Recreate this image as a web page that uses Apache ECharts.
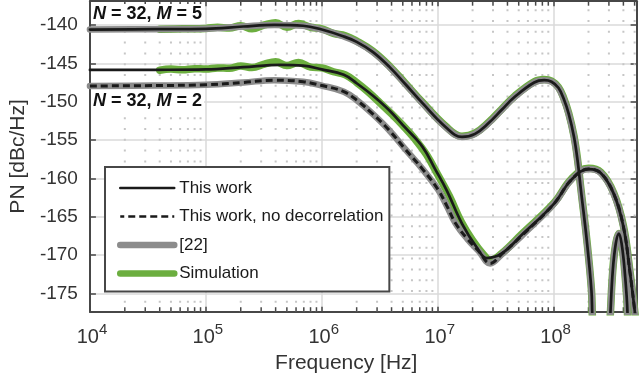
<!DOCTYPE html>
<html><head><meta charset="utf-8">
<script src="https://cdn.jsdelivr.net/npm/echarts@6/dist/echarts.min.js"></script>
<style>html,body{margin:0;padding:0;background:#fff}#c{width:640px;height:379px}</style>
</head><body><div id="c"></div>
<script>
// ---------- data (frequency in Hz, phase noise in dBc/Hz) ----------
const m5Freq = [1e4, 3.6e4, 1e5, 2.1e5, 3.9e5, 6.9e5, 1e6, 1.55e6, 2e6, 2.75e6, 3.8e6, 5.25e6, 7.4e6, 1.17e7, 1.62e7, 2.1e7, 2.75e7, 3.55e7, 4.6e7, 6.8e7, 8.3e7, 9.6e7, 1.1e8, 1.22e8, 1.35e8, 1.5e8, 1.62e8, 1.72e8, 1.93e8, 2.12e8, 2.16e8, 2.56e8, 3.08e8, 3.24e8, 3.44e8, 3.66e8, 3.86e8, 4.1e8, 4.35e8, 4.62e8];
const m5Model = [-140.6, -140.55, -140.5, -140.2, -140.0, -140.1, -140.6, -141.5, -142.2, -143.5, -145.4, -147.7, -150.2, -153.3, -154.6, -154.2, -152.8, -151.1, -149.4, -147.5, -147.2, -147.4, -148.2, -149.6, -151.6, -154.6, -158.0, -161.5, -168.0, -174.6, -178, -200, -178, -172, -168.5, -167.2, -168.5, -172, -178, -200];

const m2Freq = [1e4, 3.6e4, 1e5, 2.1e5, 4.4e5, 6.9e5, 1e6, 1.55e6, 2e6, 2.75e6, 3.8e6, 5.25e6, 7.4e6, 9.5e6, 1.19e7, 1.62e7, 2.17e7, 2.66e7, 3.57e7, 5.3e7, 1.01e8, 1.42e8, 2e8, 2.55e8, 3.3e8, 4e8, 4.57e8, 5e8, 5.2e8];
const m2ThisWork = [-145.87, -145.85, -145.8, -145.5, -145.2, -145.3, -145.8, -146.5, -147.6, -149.2, -151.1, -153.4, -155.9, -158.8, -161.5, -165.9, -169.0, -170.4, -169.8, -167.4, -163.3, -160.2, -158.8, -159.3, -162.0, -166.3, -172.4, -177.2, -180];

const m2NoDecorFreq = [1e4, 3.6e4, 1e5, 2.1e5, 3.9e5, 6.9e5, 1e6, 1.55e6, 2e6, 2.75e6, 3.8e6, 5.25e6, 7.4e6, 1.01e7, 1.2e7, 1.43e7, 1.8e7, 2.26e7, 2.84e7, 3.57e7, 5.3e7, 1.01e8, 1.42e8, 2e8, 2.55e8, 3.3e8, 4e8, 4.57e8, 5e8, 5.2e8];
const m2NoDecor = [-147.96, -147.9, -147.8, -147.5, -147.2, -147.4, -147.9, -148.7, -149.8, -151.6, -153.7, -156.2, -158.8, -161.5, -163.6, -165.9, -167.9, -169.5, -171.1, -169.9, -167.5, -163.3, -160.2, -158.8, -159.3, -162.0, -166.3, -172.4, -177.2, -180];

const sim5Freq = [4e4, 6.3e4, 1e5, 1.26e5, 1.6e5, 2e5, 2.5e5, 3.2e5, 4e5, 5e5, 6.3e5, 8e5, 1e6, 1.26e6, 1.6e6, 2e6, 2.75e6, 3.8e6, 5.25e6, 7.4e6, 1.17e7, 1.62e7, 2.1e7, 2.75e7, 3.55e7, 4.6e7, 6.8e7, 8.3e7, 9.6e7, 1.1e8, 1.22e8, 1.35e8, 1.5e8, 1.62e8, 1.72e8, 1.93e8, 2.12e8, 2.16e8, 2.56e8, 3.08e8, 3.24e8, 3.44e8, 3.66e8, 3.86e8, 4.1e8, 4.35e8, 4.62e8];
const sim5 = [-140.55, -140.5, -140.45, -140.3, -140.4, -140.1, -140.5, -140.0, -139.7, -140.3, -139.8, -140.3, -140.5, -141.1, -141.4, -142.1, -143.4, -145.3, -147.6, -150.1, -153.2, -154.5, -154.1, -152.7, -151.0, -149.3, -147.4, -147.1, -147.3, -148.1, -149.5, -151.5, -154.5, -157.9, -161.4, -167.9, -174.5, -178, -200, -178, -172, -168.5, -167.2, -168.5, -172, -178, -200];

const sim2Freq = [4e4, 5e4, 6.3e4, 8e4, 1e5, 1.26e5, 1.6e5, 2e5, 2.5e5, 3.2e5, 4e5, 5e5, 6.3e5, 8e5, 1e6, 1.26e6, 1.6e6, 2e6, 2.5e6, 3.2e6, 4e6, 5e6, 6.3e6, 8e6, 1e7, 1.26e7, 1.6e7, 2e7, 2.5e7, 2.84e7, 3.57e7, 5.3e7, 1.01e8, 1.42e8, 2e8, 2.55e8, 3.3e8, 4e8, 4.57e8, 5e8, 5.2e8];
const sim2 = [-145.9, -145.75, -145.85, -145.7, -145.75, -145.6, -145.65, -145.35, -145.55, -145.1, -144.8, -145.3, -144.9, -145.5, -145.6, -146.1, -146.5, -147.5, -148.7, -150.2, -151.6, -153.1, -154.8, -156.9, -159.5, -162.3, -165.7, -168.1, -170.0, -170.7, -169.8, -167.3, -163.2, -160.1, -158.7, -159.2, -161.9, -166.2, -172.3, -177.2, -180];

const minorTickFreqs = [2e4, 3e4, 4e4, 5e4, 6e4, 7e4, 8e4, 9e4, 2e5, 3e5, 4e5, 5e5, 6e5, 7e5, 8e5, 9e5, 2e6, 3e6, 4e6, 5e6, 6e6, 7e6, 8e6, 9e6, 2e7, 3e7, 4e7, 5e7, 6e7, 7e7, 8e7, 9e7, 2e8, 3e8, 4e8, 5e8];

const legendNames = ['This work', 'This work, no decorrelation', '[22]', 'Simulation'];
const X_MIN = 1e4, X_MAX = 5.2e8, Y_MIN = -177.4, Y_MAX = -136.9;

// ---------- chart ----------
const FONT = '"Liberation Sans", Arial, sans-serif';
const BLACK = '#1a1a1a', GRAY = '#8c8c8c', GREEN = '#6cae3f', FRAME = '#474747';
const zip = (f, v) => f.map((x, i) => [x, v[i]]);

function lineSeries(name, data, color, width, type) {
  return {
    type: 'line', name, data, symbol: 'none', showSymbol: false,
    smooth: 0.4, clip: true, silent: true,
    lineStyle: { color, width, type: type || 'solid', cap: type ? 'butt' : 'round', join: 'round' },
    itemStyle: { color }, z: 3
  };
}

const chart = echarts.init(document.getElementById('c'), null, { renderer: 'canvas' });
const xCommon = {
  type: 'log', logBase: 10, min: X_MIN, max: X_MAX, splitNumber: 5,
  axisLine: { show: true, onZero: false, lineStyle: { color: FRAME, width: 2 } },
  axisTick: { show: true, inside: true, length: 5, lineStyle: { color: FRAME, width: 1.5 } }
};
const yCommon = {
  type: 'value', min: Y_MIN, max: Y_MAX, splitNumber: 8, minInterval: 5, maxInterval: 5,
  axisLine: { show: true, lineStyle: { color: FRAME, width: 2 } },
  axisTick: { show: true, inside: true, length: 6, lineStyle: { color: FRAME, width: 1.5 } }
};
const hiddenMarker = { opacity: 0, color: 'rgba(0,0,0,0)', borderWidth: 0 };

chart.setOption({
  animation: false,
  backgroundColor: '#fff',
  textStyle: { fontFamily: FONT },
  grid: { left: 84.3, right: 3.4, top: 1.2, bottom: 67.3, containLabel: false },
  xAxis: [
    Object.assign({}, xCommon, {
      position: 'bottom',
      name: 'Frequency [Hz]', nameLocation: 'middle', nameGap: 40,
      nameTextStyle: { fontSize: 21, color: '#333', fontFamily: FONT, padding: [0, 34, 0, 0] },
      axisLabel: {
        margin: 6, color: '#333',
        formatter: v => {
          const e = Math.log10(v);
          if (Math.abs(e - Math.round(e)) > 1e-6) return '';
          return '{b|10}{s|' + Math.round(e) + '}';
        },
        rich: {
          b: { fontSize: 20, fontFamily: FONT, color: '#333', padding: [10, 0, 0, 4], verticalAlign: 'bottom' },
          s: { fontSize: 15, fontFamily: FONT, color: '#333', padding: [0, 0, 10, 0], verticalAlign: 'bottom' }
        }
      },
      splitLine: { show: true, lineStyle: { color: '#dadada', width: 1.5 } }
    }),
    Object.assign({}, xCommon, { position: 'top', axisLabel: { show: false }, splitLine: { show: false } })
  ],
  yAxis: [
    Object.assign({}, yCommon, {
      position: 'left',
      name: 'PN [dBc/Hz]', nameLocation: 'middle', nameGap: 60,
      nameTextStyle: { fontSize: 21, color: '#333', fontFamily: FONT },
      axisLabel: {
        margin: 12, fontSize: 19, color: '#333', fontFamily: FONT,
        formatter: v => (Math.abs(v / 5 - Math.round(v / 5)) < 1e-6 ? String(v) : '')
      },
      splitLine: { show: true, lineStyle: { color: '#dadada', width: 1.5 } }
    }),
    Object.assign({}, yCommon, { position: 'right', axisLabel: { show: false }, splitLine: { show: false } })
  ],
  legend: {
    show: true, orient: 'vertical', left: 105, top: 167,
    padding: [11, 6, 8, 12], itemGap: 8.5, itemWidth: 54, itemHeight: 2,
    backgroundColor: '#fff', borderColor: FRAME, borderWidth: 2, borderRadius: 0,
    selectedMode: false,
    itemStyle: hiddenMarker,
    textStyle: { fontSize: 17, lineHeight: 20, color: '#1a1a1a', fontFamily: FONT },
    data: [
      { name: legendNames[0], lineStyle: { width: 2.5 }, itemStyle: hiddenMarker },
      { name: legendNames[1], lineStyle: { width: 2.5 }, itemStyle: hiddenMarker },
      { name: legendNames[2], lineStyle: { width: 6.5 }, itemStyle: hiddenMarker },
      { name: legendNames[3], lineStyle: { width: 6.5 }, itemStyle: hiddenMarker }
    ],
    z: 20
  },
  graphic: [
    {
      type: 'text', left: 91, top: 4, z: 15,
      style: {
        text: '{i|N}{r| = 32, }{i|M}{r| = 5}', backgroundColor: '#fff', padding: [1, 2],
        rich: {
          i: { fontStyle: 'italic', fontWeight: 'bold', fontSize: 18, fontFamily: FONT, fill: '#111' },
          r: { fontWeight: 'bold', fontSize: 18, fontFamily: FONT, fill: '#111' }
        }
      }
    },
    {
      type: 'text', left: 91, top: 91, z: 15,
      style: {
        text: '{i|N}{r| = 32, }{i|M}{r| = 2}', backgroundColor: '#fff', padding: [1, 2],
        rich: {
          i: { fontStyle: 'italic', fontWeight: 'bold', fontSize: 18, fontFamily: FONT, fill: '#111' },
          r: { fontWeight: 'bold', fontSize: 18, fontFamily: FONT, fill: '#111' }
        }
      }
    }
  ],
  series: [
    {
      type: 'custom', name: 'minor', silent: true, z: 1, clip: false,
      data: minorTickFreqs.map(f => [f, Y_MAX]),
      encode: { x: 0, y: 1 },
      renderItem: (params, api) => {
        const x = api.coord([api.value(0), Y_MAX])[0];
        const cs = params.coordSys;
        const top = cs.y, bot = cs.y + cs.height;
        return {
          type: 'group', children: [
            { type: 'line', shape: { x1: x, y1: top, x2: x, y2: bot }, style: { stroke: '#c6c6c6', lineWidth: 2, lineDash: [2, 8.8], lineDashOffset: -8 } },
            { type: 'line', shape: { x1: x, y1: bot, x2: x, y2: bot - 4.5 }, style: { stroke: FRAME, lineWidth: 1.5 } },
            { type: 'line', shape: { x1: x, y1: top, x2: x, y2: top + 4.5 }, style: { stroke: FRAME, lineWidth: 1.5 } }
          ]
        };
      }
    },
    lineSeries('Simulation', zip(sim5Freq, sim5), GREEN, 7.5),
    lineSeries('Simulation', zip(sim2Freq, sim2), GREEN, 7.5),
    lineSeries('[22]', zip(m5Freq, m5Model), GRAY, 6.5),
    lineSeries('[22]', zip(m2NoDecorFreq, m2NoDecor), GRAY, 6.5),
    lineSeries('This work', zip(m5Freq, m5Model), BLACK, 2.7),
    lineSeries('This work', zip(m2Freq, m2ThisWork), BLACK, 2.7),
    lineSeries('This work, no decorrelation', zip(m2NoDecorFreq, m2NoDecor), BLACK, 3, [7, 4])
  ]
});
</script>
</body></html>
